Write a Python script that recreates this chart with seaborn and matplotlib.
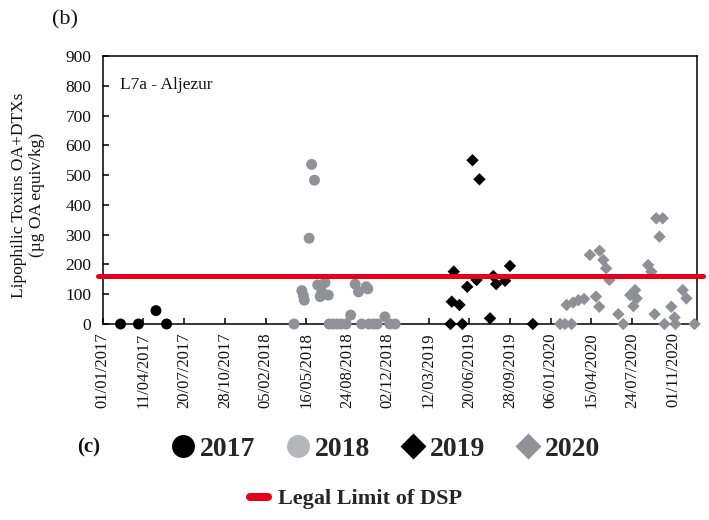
import matplotlib
matplotlib.use("Agg")
import matplotlib.pyplot as plt
import matplotlib.dates as mdates
from matplotlib.lines import Line2D
import seaborn as sns
import pandas as pd

# ---------------- data ----------------
dates_2017 = ["2017-02-14", "2017-03-30", "2017-05-12", "2017-06-07"]
vals_2017 = [0, 0, 45, 0]

dates_2018 = ["2018-04-16", "2018-05-05", "2018-05-09", "2018-05-11", "2018-05-23",
              "2018-05-29", "2018-06-05", "2018-06-13", "2018-06-19", "2018-06-23",
              "2018-07-01", "2018-07-09", "2018-07-11", "2018-07-21", "2018-07-31",
              "2018-08-10", "2018-08-22", "2018-09-02", "2018-09-13", "2018-09-21",
              "2018-09-29", "2018-10-10", "2018-10-14", "2018-10-17", "2018-10-29",
              "2018-11-06", "2018-11-25", "2018-12-07", "2018-12-20"]
vals_2018 = [0, 112, 95, 80, 288,
             536, 483, 131, 92, 108,
             139, 97, 0, 0, 0,
             0, 0, 30, 134, 108,
             0, 125, 118, 0, 0,
             0, 24, 0, 0]

dates_2019 = ["2019-05-05", "2019-05-08", "2019-05-13", "2019-05-27", "2019-06-03",
              "2019-06-15", "2019-06-28", "2019-07-08", "2019-07-15", "2019-08-10",
              "2019-08-18", "2019-08-25", "2019-09-16", "2019-09-28", "2019-11-23"]
vals_2019 = [0, 75, 176, 64, 0,
             125, 550, 148, 486, 19,
             161, 134, 145, 195, 0]

dates_2020 = ["2020-01-29", "2020-02-10", "2020-02-14", "2020-02-26", "2020-03-01",
              "2020-03-14", "2020-03-28", "2020-04-11", "2020-04-26", "2020-05-04",
              "2020-05-05", "2020-05-14", "2020-05-21", "2020-05-29", "2020-06-20",
              "2020-07-02", "2020-07-19", "2020-07-27", "2020-07-31", "2020-08-04",
              "2020-09-01", "2020-09-09", "2020-09-17", "2020-09-21", "2020-09-29",
              "2020-10-07", "2020-10-11", "2020-10-28", "2020-11-05", "2020-11-07",
              "2020-11-25", "2020-12-04", "2020-12-24"]
vals_2020 = [0, 0, 64, 0, 72,
             80, 84, 232, 92, 58,
             246, 215, 187, 148, 33,
             0, 97, 60, 114, 86,
             198, 176, 33, 355, 293,
             355, 0, 58, 22, 0,
             114, 86, 0]

legal_limit = 160
years = ["2017", "2018", "2019", "2020"]
y_ticks = [0, 100, 200, 300, 400, 500, 600, 700, 800, 900]
x_tick_start = "2017-01-01"
x_tick_count = 15
x_end = "2020-12-31"

# ---------------- styling ----------------
sns.set_theme(style="white")
plt.rcParams["font.family"] = ["Liberation Serif", "DejaVu Serif"]

plot_colors = {"2017": "#000000", "2018": "#909297", "2019": "#000000", "2020": "#8e9095"}
legend_colors = {"2017": "#000000", "2018": "#b4b6ba", "2019": "#000000", "2020": "#909297"}
markers = {"2017": "o", "2018": "o", "2019": "D", "2020": "D"}
sizes = {"2017": 62, "2018": 62, "2019": 40, "2020": 40}

series = {
    "2017": (dates_2017, vals_2017),
    "2018": (dates_2018, vals_2018),
    "2019": (dates_2019, vals_2019),
    "2020": (dates_2020, vals_2020),
}

W, H = 709, 520
fig = plt.figure(figsize=(W / 100, H / 100), dpi=100)
ax_l, ax_r, ax_t, ax_b = 102.6, 697.4, 56, 324
ax = fig.add_axes([ax_l / W, 1 - ax_b / H, (ax_r - ax_l) / W, (ax_b - ax_t) / H])

for yr in years:
    d, v = series[yr]
    df = pd.DataFrame({"date": pd.to_datetime(d), "value": v})
    sns.scatterplot(data=df, x="date", y="value", ax=ax, color=plot_colors[yr],
                    marker=markers[yr], s=sizes[yr], edgecolor="none",
                    linewidth=0, clip_on=False, zorder=3, legend=False)

ax.axhline(legal_limit, xmin=-0.008, xmax=1.01, color="#e3001b", lw=3.6,
           clip_on=False, zorder=4)

ax.set_ylim(0, 900)
ax.set_yticks(y_ticks)
ax.set_xlim(pd.Timestamp(x_tick_start), pd.Timestamp(x_end))
ax.set_xticks(pd.date_range(x_tick_start, periods=x_tick_count, freq="100D"))
ax.xaxis.set_major_formatter(mdates.DateFormatter("%d/%m/%Y"))
ax.set_xlabel("")
ax.set_ylabel("")

for sp in ax.spines.values():
    sp.set_visible(True)
    sp.set_color("black")
    sp.set_linewidth(1.1)

ax.tick_params(axis="y", direction="in", length=4, width=1.1, color="black",
               labelsize=12.5, pad=8, left=True, labelcolor="#111111")
ax.tick_params(axis="x", direction="in", length=4, width=1.1, color="black",
               labelsize=12, pad=6, bottom=True, labelrotation=90, labelcolor="#111111")
for lab in ax.get_xticklabels():
    lab.set_rotation(90)
    lab.set_ha("center")
    lab.set_va("top")

ax.text((120 - ax_l) / (ax_r - ax_l), (ax_b - 85) / (ax_b - ax_t), "L7a - Aljezur",
        transform=ax.transAxes, fontsize=12.5, ha="left", va="center", color="#111111")

fig.text(28 / W, 1 - 195 / H, "Lipophilic Toxins OA+DTXs\n(µg OA equiv/kg)",
         rotation=90, ha="center", va="center", fontsize=12.5, linespacing=1.15,
         color="#111111")

fig.text(52 / W, 1 - 20 / H, "(b)", fontsize=16, ha="left", va="center", color="#111111")
fig.text(77 / W, 1 - 447 / H, "(c)", fontsize=15, fontweight="bold", ha="left",
         va="center", color="#111111")

# legend row 1
handles = []
for yr in years:
    ms = 16.5 if markers[yr] == "o" else 13
    handles.append(Line2D([], [], linestyle="none", marker=markers[yr], markersize=ms,
                          markerfacecolor=legend_colors[yr], markeredgecolor="none"))
leg1 = fig.legend(handles, years, loc="center left",
                  bbox_to_anchor=(171 / W, 1 - 449 / H), ncol=4, frameon=False,
                  prop={"family": ["Liberation Serif"], "weight": "bold", "size": 20},
                  handlelength=0.85, handletextpad=0.2, columnspacing=1.1,
                  borderpad=0, borderaxespad=0)

# legend row 2
red_handle = Line2D([], [], color="#e3001b", lw=5.8, solid_capstyle="round")
leg2 = fig.legend([red_handle], ["Legal Limit of DSP"], loc="center left",
                  bbox_to_anchor=(250 / W, 1 - 499 / H), frameon=False,
                  prop={"family": ["Liberation Serif"], "weight": "bold", "size": 16},
                  handlelength=0.82, handletextpad=0.42, borderpad=0, borderaxespad=0)

fig.savefig("out.png", dpi=100, facecolor="white")
